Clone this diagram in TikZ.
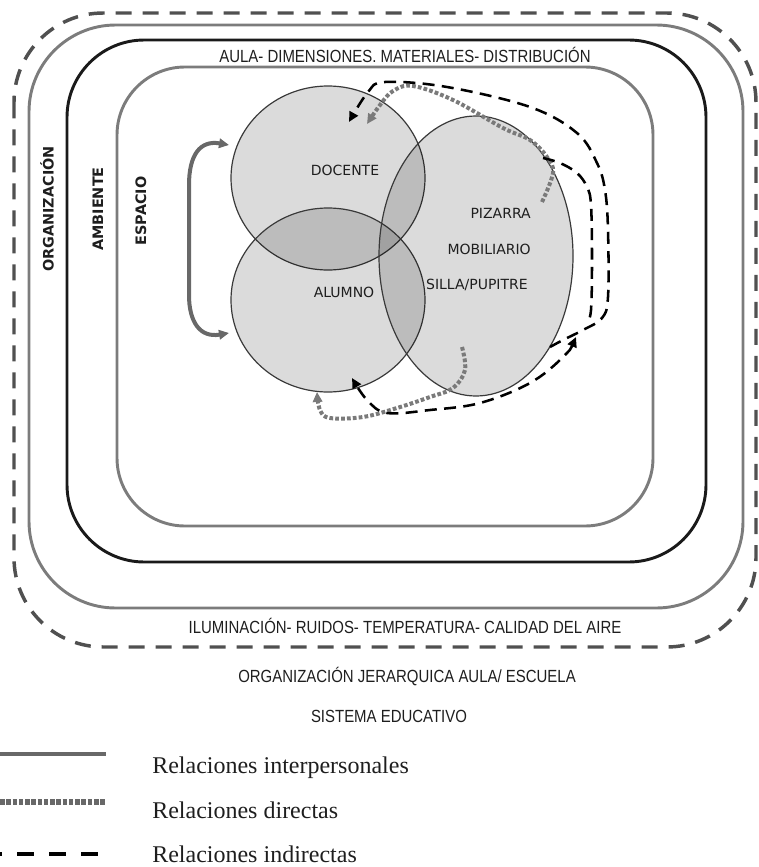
\documentclass[tikz,border=0pt]{standalone}
\usepackage{fontspec}
\setmainfont{Liberation Serif}
\newfontfamily\condfont{Liberation Sans}[FakeStretch=0.85]
\newfontfamily\verd{DejaVu Sans}
\usetikzlibrary{shapes.geometric,arrows.meta}
\definecolor{dashgray}{HTML}{505050}
\definecolor{ringgray}{HTML}{7C7C7C}
\definecolor{ringblack}{HTML}{1A1A1A}
\definecolor{circstroke}{HTML}{3A3A3A}
\definecolor{intergray}{HTML}{686868}
\definecolor{dotgray}{HTML}{7A7A7A}
\definecolor{txt}{HTML}{1E1E1E}
\tikzset{
  outerdash/.style={draw=dashgray, line width=2.6pt, dash pattern=on 12pt off 8.25pt},
  ringA/.style={draw=ringgray, line width=2.2pt},
  ringB/.style={draw=ringblack, line width=2.2pt},
  blob/.style={draw=circstroke, line width=0.9pt, fill=black, fill opacity=0.14, ellipse, inner sep=0pt, outer sep=0pt},
  condlbl/.style={font=\condfont\fontsize{13.2}{15}\selectfont, text=txt, inner sep=0pt},
  circlbl/.style={font=\verd\fontsize{10.5}{12}\selectfont, text=txt, inner sep=0pt},
  vertlbl/.style={font=\verd\bfseries\fontsize{10.8}{12}\selectfont, text=txt, rotate=90, inner sep=0pt},
  leglbl/.style={font=\fontsize{18}{20}\selectfont, text=txt, inner sep=0pt, anchor=base west},
  tipA/.tip={Triangle[length=7.5pt,width=7pt]},
  interarrow/.style={draw=intergray, line width=3pt, tipA-tipA},
  directline/.style={draw=dotgray, line width=3pt, dash pattern=on 2.8pt off 1.6pt, -tipA},
  indirectline/.style={draw=black, line width=1.9pt, dash pattern=on 9pt off 5.5pt},
}
\begin{document}
\begin{tikzpicture}[x=0.75pt,y=-0.75pt]
\useasboundingbox (0,0) rectangle (758,867);

% nested frames
\draw[outerdash, rounded corners=67pt] (14,13) rectangle (756,647);
\draw[ringA, rounded corners=65pt] (29,25) rectangle (743,608);
\draw[ringB, rounded corners=58pt] (67,40) rectangle (706,562);
\draw[ringA, rounded corners=51pt] (117,67) rectangle (653,526);

% frame labels
\node[condlbl] (aula) at (405,55) {AULA- DIMENSIONES. MATERIALES- DISTRIBUCIÓN};
\node[condlbl] (ilum) at (405,626) {ILUMINACIÓN- RUIDOS- TEMPERATURA- CALIDAD DEL AIRE};
\node[condlbl] (jer) at (407,677) {ORGANIZACIÓN JERARQUICA AULA/ ESCUELA};
\node[condlbl] (sis) at (389,716) {SISTEMA EDUCATIVO};
\node[vertlbl] (org) at (47,209) {ORGANIZACIÓN};
\node[vertlbl] (amb) at (98,209) {AMBIENTE};
\node[vertlbl] (esp) at (141,211) {ESPACIO};

% circles
\node[blob, minimum width=145.5pt, minimum height=138pt] (doc) at (328,178) {};
\node[blob, minimum width=145.5pt, minimum height=138pt] (alu) at (328,300) {};
\node[blob, minimum width=145.5pt, minimum height=210pt] (mat) at (476,256) {};
\node[circlbl] (docl) at (345,170) {DOCENTE};
\node[circlbl] (alul) at (344,292) {ALUMNO};
\node[circlbl, anchor=east] (piz) at (531,213) {PIZARRA};
\node[circlbl, anchor=east] (mob) at (531,249) {MOBILIARIO};
\node[circlbl, anchor=east] (sil) at (528,285) {SILLA/PUPITRE};

% interpersonal arrow
\coordinate (ia) at (229,145);
\coordinate (ib) at (229,333);
\draw[interarrow] (ia) .. controls (200,140) and (189,155) .. (189,185) -- (189,295) .. controls (189,322) and (200,338) .. (ib);

% direct relations (dotted)
\coordinate (da0) at (542,202);
\coordinate (da1) at (367,124);
\draw[directline] plot[smooth, tension=0.6] coordinates {(da0) (553,173) (547,157) (530,140) (503,128) (453,100) (413,86) (393,91) (380,105) (da1)};
\coordinate (db0) at (462,347);
\coordinate (db1) at (317,392);
\draw[directline] plot[smooth, tension=0.6] coordinates {(db0) (465,370) (453,388) (430,397) (397,408) (363,417) (330,418) (320,410) (db1)};

% indirect relations (dashed)
\coordinate (ea0) at (550,347);
\coordinate (ea1) at (349,122);
\draw[indirectline, -tipA] plot[smooth, tension=0.6] coordinates {(ea0) (563,340) (583,330) (602,318) (608,297) (608,230) (605,190) (597,163) (577,133) (530,107) (447,87) (385,82) (368,92) (ea1)};
\coordinate (eb0) at (543,158);
\coordinate (eb1) at (587,323);
\draw[indirectline] plot[smooth, tension=0.6] coordinates {(eb0) (560,163) (577,173) (587,187) (591,205) (592,260) (591,310) (eb1)};
\coordinate (ec0) at (576,337);
\coordinate (ec1) at (352,378);
\draw[indirectline, tipA-tipA] plot[smooth, tension=0.6] coordinates {(ec0) (563,357) (530,383) (480,403) (430,410) (387,413) (367,400) (ec1)};

% legend
\coordinate (l1a) at (0,754); \coordinate (l1b) at (106,754);
\coordinate (l2a) at (0,802); \coordinate (l2b) at (106,802);
\coordinate (l3a) at (0,854); \coordinate (l3b) at (106,854);
\draw[draw=intergray, line width=3.6pt] (l1a) -- (l1b);
\draw[draw=dotgray!85!black, line width=3.8pt, dash pattern=on 3.4pt off 1.3pt] (l2a) -- (l2b);
\draw[draw=black, line width=3.6pt, dash pattern=on 12.75pt off 11.25pt, dash phase=11.25pt] (l3a) -- (l3b);
\node[leglbl] (t1) at (152,773) {Relaciones interpersonales};
\node[leglbl] (t2) at (152,818) {Relaciones directas};
\node[leglbl] (t3) at (152,862) {Relaciones indirectas};
\end{tikzpicture}
\end{document}
